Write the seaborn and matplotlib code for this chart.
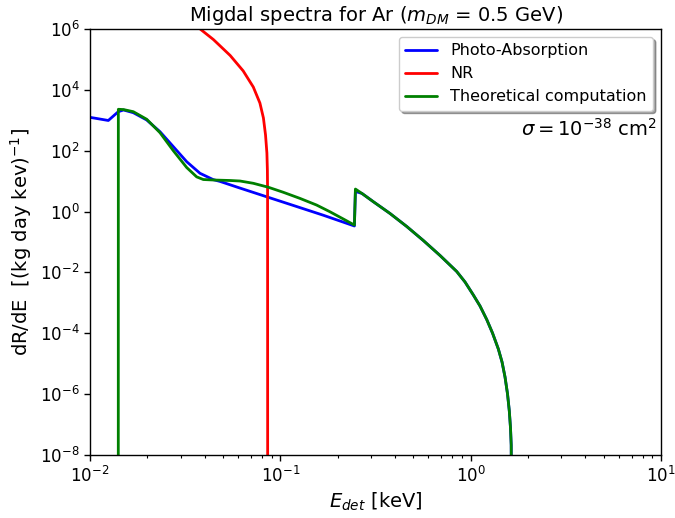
import numpy as np
import pandas as pd
import matplotlib
matplotlib.use("Agg")
import matplotlib.pyplot as plt
import seaborn as sns

# ---- data ----
# Photo-Absorption, low-energy part (below the L-shell edge)
photo_low_E = [0.0100, 0.01248, 0.01408, 0.0150, 0.01689, 0.01986, 0.02332, 0.0274, 0.03222,
               0.03784, 0.04444, 0.04819, 0.0600, 0.0848, 0.120, 0.168, 0.2450]
photo_low_R = [1250, 985, 1915, 2180, 1775, 1023, 422, 136, 43.5,
               18.1, 11.2, 9.8, 6.2, 3.06, 1.51, 0.76, 0.336]
photo_edge_R = [4.6]

# Theoretical computation, low-energy part
theo_low_E = [0.01408, 0.01409, 0.0150, 0.01689, 0.01986, 0.02332, 0.0274, 0.03222, 0.03635,
              0.0394, 0.0445, 0.0545, 0.0614, 0.0721, 0.0865, 0.1037, 0.127, 0.155, 0.182,
              0.2143, 0.2450]
theo_low_R = [1e-10, 2300, 2250, 1915, 1080, 391, 100, 28.0, 13.8,
              11.3, 10.9, 10.5, 10.1, 8.5, 6.3, 4.3, 2.7, 1.64, 0.99,
              0.57, 0.36]
theo_edge_R = [5.5]

# common high-energy tail (both curves overlap)
edge_E = [0.2480]
tail_E = [0.2686, 0.3080, 0.3770, 0.4613, 0.5640, 0.6901, 0.8446, 0.9339, 1.0325, 1.1197,
          1.2142, 1.3023, 1.3975, 1.4614, 1.5152, 1.5620, 1.5959, 1.6192, 1.6331, 1.6391]
tail_R = [3.93, 2.11, 0.865, 0.324, 0.112, 0.0361, 0.01074, 4.85e-3, 1.82e-3, 7.89e-4,
          2.84e-4, 1.02e-4, 3.05e-5, 1.14e-5, 3.66e-6, 1.01e-6, 2.80e-7, 7.73e-8, 2.13e-8, 1e-10]

# NR
nr_E = [0.0297, 0.0379, 0.0445, 0.0545, 0.0638, 0.0721, 0.0781, 0.0815, 0.0836, 0.0850,
        0.0855, 0.0857, 0.0858]
nr_R = [4.0e6, 1.0e6, 4.5e5, 1.35e5, 4.2e4, 1.24e4, 3.7e3, 1.19e3, 329, 84,
        23, 5.1, 1e-10]

series_names = ["Photo-Absorption", "NR", "Theoretical computation"]
series_colors = ["blue", "red", "green"]

photo_E = photo_low_E + edge_E + tail_E
photo_R = photo_low_R + photo_edge_R + tail_R
theo_E = theo_low_E + edge_E + tail_E
theo_R = theo_low_R + theo_edge_R + tail_R

df = pd.concat([
    pd.DataFrame({"E": photo_E, "R": photo_R, "series": series_names[0]}),
    pd.DataFrame({"E": nr_E, "R": nr_R, "series": series_names[1]}),
    pd.DataFrame({"E": theo_E, "R": theo_R, "series": series_names[2]}),
], ignore_index=True)

sns.set_style("ticks")
plt.rcParams["font.family"] = ["DejaVu Sans"]
plt.rcParams["mathtext.fontset"] = "dejavusans"
for k in ["text.color", "axes.labelcolor", "xtick.color", "ytick.color", "axes.edgecolor"]:
    plt.rcParams[k] = "black"

fig, ax = plt.subplots(figsize=(6.75, 5.18), dpi=100)
fig.subplots_adjust(left=90/675, right=661/675, top=1-29/518, bottom=1-455/518)

sns.lineplot(data=df, x="E", y="R", hue="series", hue_order=series_names,
             palette=dict(zip(series_names, series_colors)), sort=False,
             estimator=None, units="series", linewidth=2, ax=ax)

ax.set_xscale("log")
ax.set_yscale("log")
ax.set_xlim(1e-2, 1e1)
ax.set_ylim(1e-8, 1e6)
ax.set_yticks([10.0**k for k in range(-8, 7, 2)])
ax.yaxis.set_minor_locator(matplotlib.ticker.NullLocator())
ax.xaxis.set_minor_locator(matplotlib.ticker.LogLocator(base=10, subs=np.arange(2, 10), numticks=20))

for s in ax.spines.values():
    s.set_visible(True)
    s.set_color("black")
    s.set_linewidth(1.0)
ax.tick_params(axis="both", which="major", labelsize=12, length=4, width=1, color="black", direction="out")
ax.tick_params(axis="x", which="minor", length=2.5, width=0.8, color="black")

ax.set_title("Migdal spectra for Ar ($m_{DM}$ = 0.5 GeV)", fontsize=14)
ax.set_xlabel("$E_{det}$ [keV]", fontsize=14)
ax.set_ylabel("dR/dE  [(kg day kev)$^{-1}$]", fontsize=14)

leg = ax.legend(loc="upper right", fontsize=11.5, shadow=True, frameon=True, fancybox=True)
leg.get_frame().set_edgecolor("#cccccc")

ax.text(0.993, 0.765, r"$\sigma = 10^{-38}$ cm$^2$", transform=ax.transAxes,
        ha="right", va="center", fontsize=14)

fig.savefig("out.png", dpi=100)
